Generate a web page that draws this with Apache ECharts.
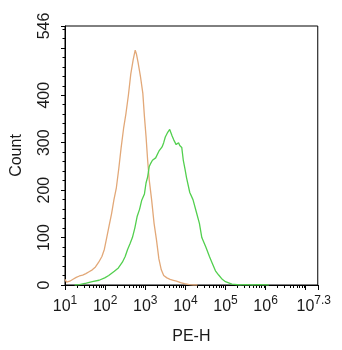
<!DOCTYPE html>
<html>
<head>
<meta charset="utf-8">
<script src="https://cdn.jsdelivr.net/npm/echarts@6/dist/echarts.min.js"></script>
<style>
  html, body { margin: 0; padding: 0; background: #fff; }
  #chart { width: 342px; height: 350px; }
</style>
</head>
<body>
<div id="chart"></div>
<script>
// x values are log10(PE-H), y values are counts
var ctrlX = [1.00, 1.04, 1.08, 1.12, 1.20, 1.28, 1.36, 1.44, 1.52, 1.60, 1.68, 1.76, 1.84, 1.92, 1.98,
  2.04, 2.10, 2.16, 2.22, 2.28, 2.34, 2.40, 2.46, 2.52, 2.58, 2.64, 2.70, 2.75, 2.78, 2.82, 2.88,
  2.94, 2.98, 3.02, 3.06, 3.10, 3.16, 3.22, 3.28, 3.34, 3.40, 3.46, 3.54, 3.62, 3.70, 3.78, 3.88,
  3.98, 4.10, 4.20, 4.30];
var ctrlY = [12, 6, 3, 8, 12, 16, 19, 21, 24, 28, 32, 38, 48, 60, 75,
  100, 125, 150, 180, 205, 245, 290, 330, 362, 400, 445, 475, 495, 487, 470, 440,
  404, 355, 313, 263, 221, 179, 130, 95, 55, 32, 20, 15, 12, 10, 8, 5,
  3, 1, 0, 0];

var stainX = [1.24, 1.36, 1.53, 1.68, 1.85, 1.99, 2.09, 2.23, 2.33, 2.43, 2.50, 2.56, 2.62, 2.68,
  2.74, 2.80, 2.86, 2.91, 2.98, 3.02, 3.06, 3.10, 3.14, 3.18, 3.26, 3.34, 3.38, 3.42, 3.46, 3.50,
  3.56, 3.61, 3.64, 3.67, 3.71, 3.77, 3.83, 3.86, 3.91, 3.95, 3.99, 4.03, 4.11, 4.19, 4.27, 4.35,
  4.41, 4.51, 4.60, 4.67, 4.75, 4.83, 4.92, 5.00, 5.16, 5.36, 5.48, 5.67, 5.84, 6.08];
var stainY = [0, 1, 4, 7, 10, 15, 20, 29, 36, 48, 60, 75, 87, 100,
  120, 145, 160, 178, 192, 215, 228, 250, 257, 263, 268, 282, 285, 291, 300, 312,
  322, 328, 325, 314, 306, 296, 300, 294, 290, 262, 245, 226, 195, 180, 155, 130,
  100, 80, 60, 46, 30, 21, 12, 7, 2, 0, 1, 0, 1, 0];

var xLabelValues = [1, 2, 3, 4, 5, 6, 7.3];
var xMajorTicks = [1, 2, 3, 4, 5, 6, 7, 7.3];
var yTickValues = [0, 100, 200, 300, 400, 500, 546];
var yLabelValues = [0, 100, 200, 300, 400, 546];

var xMinorTicks = [];
for (var d = 1; d <= 6; d++) {
  for (var k = 2; k <= 9; k++) xMinorTicks.push(d + Math.log10(k));
}
var yMinorTicks = [];
for (var v = 20; v < 546; v += 20) {
  if (v % 100 !== 0) yMinorTicks.push(v);
}

function pairs(xs, ys) {
  return xs.map(function (x, i) { return [x, ys[i]]; });
}

var font = "'Liberation Sans', Arial, sans-serif";
var chart = echarts.init(document.getElementById('chart'));

chart.setOption({
  animation: false,
  backgroundColor: '#fff',
  grid: {
    left: 65, right: 17, top: 26, bottom: 65,
    show: true, borderColor: '#000', borderWidth: 1
  },
  xAxis: [
    {
      type: 'value', min: 1, max: 7.3,
      name: 'PE-H', nameLocation: 'middle', nameGap: 44,
      nameTextStyle: { fontFamily: font, fontSize: 16, color: '#1a1a1a' },
      axisLine: { show: true, lineStyle: { color: '#000', width: 1 } },
      axisTick: { show: true, inside: false, length: 5, customValues: xMajorTicks, lineStyle: { color: '#000' } },
      splitLine: { show: false },
      axisLabel: {
        customValues: xLabelValues,
        margin: 10,
        formatter: function (val) {
          if (val === 7.3) return '{b|10}{t|7.3}';
          return '{b|10}{s|' + val + '}';
        },
        rich: {
          b: { fontFamily: font, fontSize: 16, color: '#1a1a1a', lineHeight: 20, verticalAlign: 'bottom' },
          s: { fontFamily: font, fontSize: 12, color: '#1a1a1a', lineHeight: 13, verticalAlign: 'top' },
          t: { fontFamily: font, fontSize: 12, color: '#1a1a1a', lineHeight: 13, verticalAlign: 'top', padding: [0, 8, 0, 0] }
        }
      }
    },
    {
      type: 'value', min: 1, max: 7.3, position: 'bottom',
      axisLine: { show: false },
      axisTick: { show: true, length: 3, customValues: xMinorTicks, lineStyle: { color: '#000' } },
      axisLabel: { show: false },
      splitLine: { show: false }
    }
  ],
  yAxis: [
    {
      type: 'value', min: 0, max: 546,
      name: 'Count', nameLocation: 'middle', nameGap: 40,
      nameTextStyle: { fontFamily: font, fontSize: 16, color: '#1a1a1a' },
      axisLine: { show: true, lineStyle: { color: '#000', width: 1 } },
      axisTick: { show: true, length: 4, customValues: yTickValues, lineStyle: { color: '#000' } },
      splitLine: { show: false },
      axisLabel: {
        customValues: yLabelValues,
        rotate: 90, margin: 12,
        fontFamily: font, fontSize: 16, color: '#1a1a1a'
      }
    },
    {
      type: 'value', min: 0, max: 546, position: 'left',
      axisLine: { show: false },
      axisTick: { show: true, length: 2.5, customValues: yMinorTicks, lineStyle: { color: '#000' } },
      axisLabel: { show: false },
      splitLine: { show: false }
    }
  ],
  series: [
    {
      name: 'control', type: 'line', xAxisIndex: 0, yAxisIndex: 0,
      showSymbol: false, data: pairs(ctrlX, ctrlY),
      lineStyle: { color: '#E2A878', width: 1.3 }
    },
    {
      name: 'stained', type: 'line', xAxisIndex: 0, yAxisIndex: 0,
      showSymbol: false, data: pairs(stainX, stainY),
      lineStyle: { color: '#52CF4E', width: 1.3 }
    }
  ]
});
</script>
</body>
</html>
